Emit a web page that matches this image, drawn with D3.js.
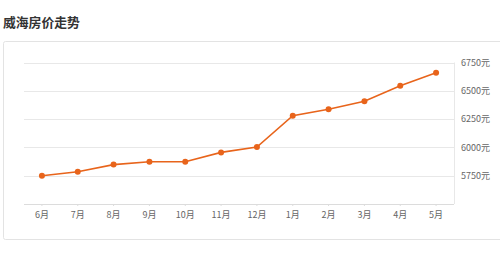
<!DOCTYPE html>
<html><head><meta charset="utf-8">
<script src="https://cdn.jsdelivr.net/npm/d3@7/dist/d3.min.js"></script>
<style>
html,body{margin:0;padding:0;background:#fff;}
svg{display:block;}
</style></head>
<body>
<svg id="c" width="500" height="258"></svg>
<script>
const title = "威海房价走势";
const months = ["6月","7月","8月","9月","10月","11月","12月","1月","2月","3月","4月","5月"];
const prices = [5750, 5785, 5848, 5873, 5873, 5956, 6003, 6280, 6337, 6407, 6544, 6660];
const yTicks = [5750, 6000, 6250, 6500, 6750];
const yUnit = "元";

const svg = d3.select("#c");
const font = "'Noto Sans CJK SC','Noto Sans',sans-serif";

svg.append("text").attr("x", 3).attr("y", 27)
  .attr("font-family", font).attr("font-size", 12.8).attr("font-weight", "bold")
  .attr("fill", "#333").text(title);

svg.append("rect").attr("x", 3.5).attr("y", 41.5).attr("width", 510).attr("height", 198)
  .attr("rx", 2).attr("fill", "#fff").attr("stroke", "#e3e3e3");

const L = 24, R = 454, T = 62.5, B = 204;
const x = d3.scaleBand().domain(months).range([L, R]);
const y = d3.scaleLinear().domain([5500, 6750]).range([B, T]);

// gridlines
svg.append("g").selectAll("line").data(yTicks).join("line")
  .attr("x1", L).attr("x2", R)
  .attr("y1", d => Math.round(y(d)) + 0.5).attr("y2", d => Math.round(y(d)) + 0.5)
  .attr("stroke", "#e8e8e8").attr("stroke-width", 1);

// right border
svg.append("line").attr("x1", R + 0.5).attr("x2", R + 0.5).attr("y1", T).attr("y2", B)
  .attr("stroke", "#e8e8e8");

// y axis (right)
const ya = svg.append("g").attr("transform", `translate(${R},0)`)
  .call(d3.axisRight(y).tickValues(yTicks).tickSize(0).tickPadding(7).tickFormat(d => d + yUnit));
ya.select(".domain").remove();
ya.selectAll("text").attr("font-family", font).attr("font-size", 9).attr("fill", "#666");

// x axis
const xa = svg.append("g").attr("transform", `translate(0,${B})`)
  .call(d3.axisBottom(x).tickSize(2).tickPadding(6));
xa.select(".domain").attr("stroke", "#dcdcdc").attr("d", `M${L},0.5H${R}`);
xa.selectAll(".tick line").attr("stroke", "#dcdcdc");
xa.selectAll("text").attr("font-family", font).attr("font-size", 9).attr("fill", "#666");

const cx = d => x(d) + x.bandwidth() / 2;
const color = "#e8641b";
const line = d3.line().x((d, i) => cx(months[i])).y(d => y(d));
svg.append("path").datum(prices).attr("d", line)
  .attr("fill", "none").attr("stroke", color).attr("stroke-width", 1.6);
svg.append("g").selectAll("circle").data(prices).join("circle")
  .attr("cx", (d, i) => cx(months[i])).attr("cy", d => y(d)).attr("r", 3)
  .attr("fill", color);
</script>
</body></html>
